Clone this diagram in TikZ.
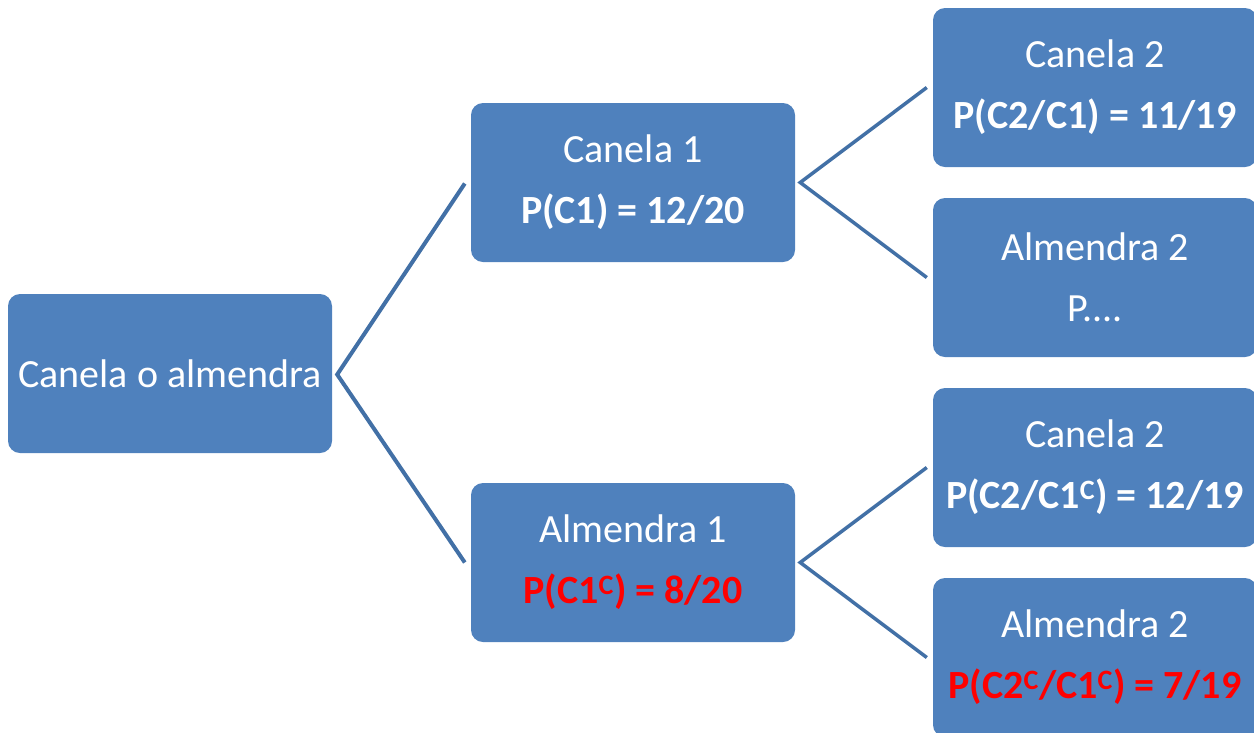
\documentclass[tikz,border=0pt]{standalone}
\usepackage{fontspec}
\setmainfont{Carlito}
\definecolor{boxblue}{HTML}{4F81BD}
\definecolor{lineblue}{HTML}{4270A6}
\definecolor{redtxt}{HTML}{FF0000}
\tikzset{
  box/.style={rectangle, rounded corners=12pt, fill=boxblue, text=white,
    minimum width=324pt, minimum height=159pt, inner sep=0pt, align=center,
    font=\fontsize{40}{61}\selectfont},
  link/.style={draw=lineblue, line width=3.5pt}
}
\begin{document}
\begin{tikzpicture}[x=1pt,y=-1pt]
\useasboundingbox (0,0) rectangle (1254,732);
\clip (0,0) rectangle (1254,732);
\node[box] (root) at (170,373.5) {Canela o almendra};
\node[box] (c1) at (633,182.5) {Canela 1\\\textbf{P(C1) = 12/20}};
\node[box] (a1) at (633,562.5) {Almendra 1\\\textcolor{redtxt}{\textbf{P(C1\textsuperscript{C}) = 8/20}}};
\node[box] (c2a) at (1095,87.5) {Canela 2\\\textbf{P(C2/C1) = 11/19}};
\node[box] (a2a) at (1095,277.5) {Almendra 2\\P....};
\node[box] (c2b) at (1095,467.5) {Canela 2\\\textbf{P(C2/C1\textsuperscript{C}) = 12/19}};
\node[box] (a2b) at (1095,657.5) {Almendra 2\\\textcolor{redtxt}{\textbf{P(C2\textsuperscript{C}/C1\textsuperscript{C}) = 7/19}}};
\draw[link, line width=4pt] ([xshift=-6pt,yshift=-1pt]c1.west) -- ([xshift=5pt,yshift=-1pt]root.east) -- ([xshift=-6pt]a1.west);
\draw[link] ([xshift=-6pt]c2a.west) -- ([xshift=5pt]c1.east) -- ([xshift=-6pt]a2a.west);
\draw[link] ([xshift=-6pt]c2b.west) -- ([xshift=5pt]a1.east) -- ([xshift=-6pt]a2b.west);
\end{tikzpicture}
\end{document}
